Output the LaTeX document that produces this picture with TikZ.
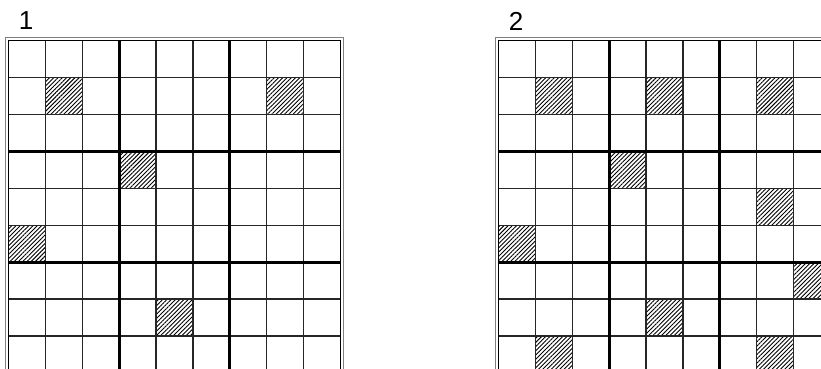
\documentclass[tikz,border=0pt]{standalone}
\usepackage{fontspec}
\setmainfont{Liberation Sans}
\usetikzlibrary{patterns.meta}

\newcommand{\cs}{36.9}

\begin{document}
\begin{tikzpicture}[x=1pt, y=-1pt,
    cellline/.style={draw=black!85, line width=1.3pt},
    boxline/.style={draw=black, line width=3pt},
    frameline/.style={draw=black, line width=1.4pt},
    outerframe/.style={draw=black!50, line width=1.2pt},
    hatched/.style={pattern={Lines[angle=45,distance=3pt,line width=0.9pt]}},
    gridlabel/.style={font=\fontsize{26}{26}\selectfont, inner sep=0pt}
]
    \useasboundingbox (0,0) rectangle (821,369);
    \clip (0,0) rectangle (821,369);

    % Labels
    \node[gridlabel] (lab1) at (26,21) {1};
    \node[gridlabel] (lab2) at (516,21) {2};

    % Grid 1
    \begin{scope}[shift={(8.5,40.7)}]
        \foreach \c/\r in {1/1, 7/1, 3/3, 0/5, 4/7}
            \path[hatched] (\c*\cs,\r*\cs) rectangle ++(\cs,\cs);
        \foreach \i in {1,2,4,5,7,8} {
            \draw[cellline] (\i*\cs,0) -- (\i*\cs,9*\cs);
            \draw[cellline] (0,\i*\cs) -- (9*\cs,\i*\cs);
        }
        \foreach \i in {3,6} {
            \draw[boxline] (\i*\cs,0) -- (\i*\cs,9*\cs);
            \draw[boxline] (0,\i*\cs) -- (9*\cs,\i*\cs);
        }
        \draw[frameline] (0,0) rectangle (9*\cs,9*\cs);
        \draw[outerframe] (-2.8,-2.8) rectangle (9*\cs+2.8,9*\cs+2.8);
    \end{scope}

    % Grid 2
    \begin{scope}[shift={(498.5,40.7)}]
        \foreach \c/\r in {1/1, 4/1, 7/1, 3/3, 7/4, 0/5, 8/6, 4/7, 1/8, 7/8}
            \path[hatched] (\c*\cs,\r*\cs) rectangle ++(\cs,\cs);
        \foreach \i in {1,2,4,5,7,8} {
            \draw[cellline] (\i*\cs,0) -- (\i*\cs,9*\cs);
            \draw[cellline] (0,\i*\cs) -- (9*\cs,\i*\cs);
        }
        \foreach \i in {3,6} {
            \draw[boxline] (\i*\cs,0) -- (\i*\cs,9*\cs);
            \draw[boxline] (0,\i*\cs) -- (9*\cs,\i*\cs);
        }
        \draw[frameline] (0,0) rectangle (9*\cs,9*\cs);
        \draw[outerframe] (-2.8,-2.8) rectangle (9*\cs+2.8,9*\cs+2.8);
    \end{scope}
\end{tikzpicture}
\end{document}
